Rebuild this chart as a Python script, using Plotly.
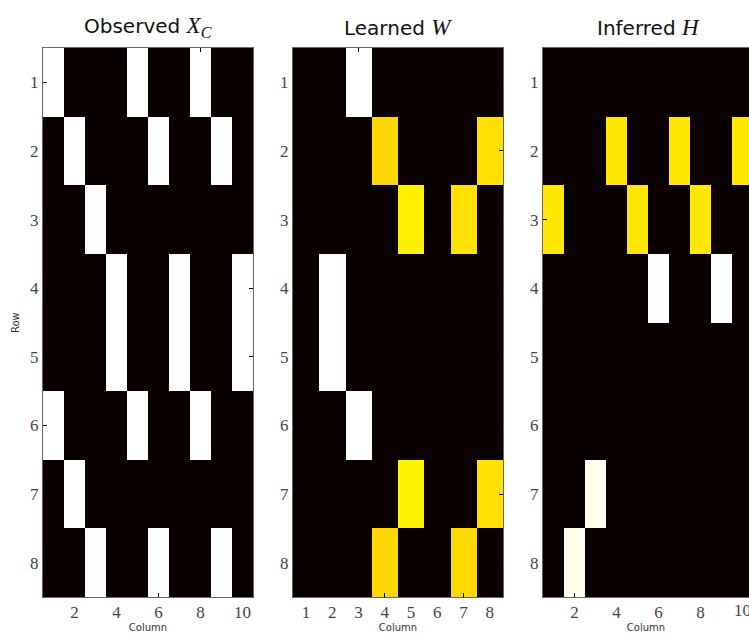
import plotly.graph_objects as go

# ---- data ----
rows = [1, 2, 3, 4, 5, 6, 7, 8]
cols10 = [1, 2, 3, 4, 5, 6, 7, 8, 9, 10]
cols8 = [1, 2, 3, 4, 5, 6, 7, 8]
ticks10 = [2, 4, 6, 8, 10]

observed_xc = [
    [1, 0, 0, 0, 1, 0, 0, 1, 0, 0],
    [0, 1, 0, 0, 0, 1, 0, 0, 1, 0],
    [0, 0, 1, 0, 0, 0, 0, 0, 0, 0],
    [0, 0, 0, 1, 0, 0, 1, 0, 0, 1],
    [0, 0, 0, 1, 0, 0, 1, 0, 0, 1],
    [1, 0, 0, 0, 1, 0, 0, 1, 0, 0],
    [0, 1, 0, 0, 0, 0, 0, 0, 0, 0],
    [0, 0, 1, 0, 0, 1, 0, 0, 1, 0],
]

learned_w = [
    [0, 0, 1, 0, 0, 0, 0, 0],
    [0, 0, 0, 0.686, 0, 0, 0, 0.70],
    [0, 0, 0, 0, 0.724, 0, 0.70, 0],
    [0, 1, 0, 0, 0, 0, 0, 0],
    [0, 1, 0, 0, 0, 0, 0, 0],
    [0, 0, 1, 0, 0, 0, 0, 0],
    [0, 0, 0, 0, 0.73, 0, 0, 0.70],
    [0, 0, 0, 0.686, 0, 0, 0.69, 0],
]

inferred_h = [
    [0, 0, 0, 0, 0, 0, 0, 0, 0, 0],
    [0, 0, 0, 0.71, 0, 0, 0.71, 0, 0, 0.71],
    [0.71, 0, 0, 0, 0.71, 0, 0, 0.71, 0, 0],
    [0, 0, 0, 0, 0, 1, 0, 0, 1, 0],
    [0, 0, 0, 0, 0, 0, 0, 0, 0, 0],
    [0, 0, 0, 0, 0, 0, 0, 0, 0, 0],
    [0, 0, 0.98, 0, 0, 0, 0, 0, 0, 0],
    [0, 0.98, 0, 0, 0, 0, 0, 0, 0, 0],
]

math = "<span style='font-family:Liberation Serif;font-size:23px'>"
titles = [
    "Observed " + math + "<i>X</i><sub><i>C</i></sub></span>",
    "Learned " + math + "<i>W</i></span>",
    "Inferred " + math + "<i>H</i></span>",
]

hot = [[0, "rgb(10,0,0)"], [0.365, "rgb(255,0,0)"],
       [0.746, "rgb(255,255,0)"], [1, "rgb(255,255,255)"]]

W, H = 749, 635
fig = go.Figure()

panels = [
    (observed_xc, cols10, (43, 253), [0.5, 10.5], ticks10),
    (learned_w, cols8, (293, 503), [0.5, 8.5], cols8),
    (inferred_h, cols10, (543, 749), [0.5, 10.31], ticks10[:-1]),
]

top, bottom = 48, 597
ydom = [1 - bottom / H, 1 - top / H]
tickfont = dict(family="Liberation Serif", size=17, color="#444")

for i, (z, xs, (x0, x1), xr, xt) in enumerate(panels):
    k = "" if i == 0 else str(i + 1)
    fig.add_trace(go.Heatmap(z=z, x=xs, y=rows, colorscale=hot, zmin=0, zmax=1,
                             showscale=False, xaxis="x" + k, yaxis="y" + k,
                             hoverinfo="skip"))
    fig.layout["xaxis" + k] = dict(
        domain=[x0 / W, x1 / W], range=xr, anchor="y" + k,
        tickvals=xt, ticks="inside", ticklen=4, tickcolor="black",
        showline=True, linecolor="#666", linewidth=1, mirror="ticks",
        showgrid=False, zeroline=False, tickfont=tickfont,
        title=dict(text="Column", font=dict(family="DejaVu Sans", size=10, color="#333"),
                   standoff=2),
    )
    fig.layout["yaxis" + k] = dict(
        domain=ydom, range=[8.5, 0.5], anchor="x" + k,
        tickvals=rows, ticks="inside", ticklen=4, tickcolor="black",
        showline=True, linecolor="#666", linewidth=1,
        mirror="ticks" if i < 2 else False,
        showgrid=False, zeroline=False, tickfont=tickfont,
    )
    fig.add_annotation(text=titles[i], x=(x0 + (x1 if i < 2 else 753)) / 2 / W,
                       y=1 - 27 / H, xref="paper", yref="paper",
                       showarrow=False, xanchor="center", yanchor="middle",
                       font=dict(family="DejaVu Sans", size=20, color="#111"))

# last column label of the cropped right panel (partly outside the page, as in the reference)
fig.add_annotation(text=str(ticks10[-1]), x=ticks10[-1], xref="x3",
                   y=1 - 610 / H, yref="paper", showarrow=False,
                   xanchor="center", yanchor="middle", font=tickfont)

fig.add_annotation(text="Row", x=15 / W, y=1 - 323 / H, xref="paper", yref="paper",
                   showarrow=False, textangle=-90, xanchor="center", yanchor="middle",
                   font=dict(family="DejaVu Sans", size=10, color="#333"))

fig.update_layout(width=W, height=H, margin=dict(l=0, r=0, t=0, b=0),
                  paper_bgcolor="white", plot_bgcolor="white", showlegend=False)

fig.write_html("out.html")
